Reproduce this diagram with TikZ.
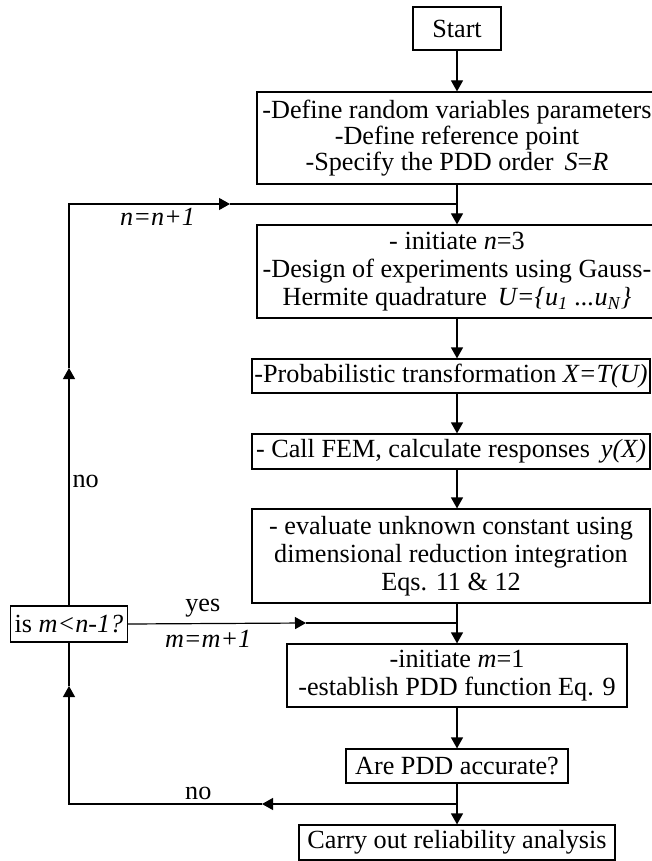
\documentclass[tikz,border=0pt]{standalone}
\usepackage{fontspec}
\setmainfont{Liberation Serif}
\usetikzlibrary{arrows.meta}
\usetikzlibrary{positioning}

\begin{document}
\begin{tikzpicture}[x=0.5pt,y=-0.5pt,node distance=2cm,auto,>={Triangle[length=5.5pt,width=6pt]},
    font=\fontsize{13.1}{14}\selectfont,line width=0.6pt,
    box/.style={draw, rectangle, align=center, inner sep=1pt}]
    \useasboundingbox (0,0) rectangle (652,861);

            % Nodes
            \node [box, minimum width=44pt, minimum height=21.5pt] (Start) at (457,28.5) {Start};
            \node [below of=Start, node distance=54.75pt, box, minimum width=200pt, minimum height=46pt, font=\fontsize{13.1}{13}\selectfont] (Define) {-Define random variables parameters\\-Define reference point\\-Specify the PDD order\, \textit{S}=\textit{R}};
            \node [below of=Define, node distance=66.75pt, box, minimum width=200pt, minimum height=46.5pt] (InitN) {- initiate \textit{n}=3\\-Design of experiments using Gauss-\\Hermite quadrature\, \textit{U=\{u\textsubscript{1} ...u\textsubscript{N}\}}};
            \node [below of=InitN, node distance=52.25pt, xshift=-3pt, box, minimum width=199pt, minimum height=17pt] (Transform) {-Probabilistic transformation \textit{X=T(U)}};
            \node [below of=Transform, node distance=37.75pt, box, minimum width=199pt, minimum height=17.5pt] (CallFEM) {- Call FEM, calculate responses\, \textit{y(X)}};
            \node [below of=CallFEM, node distance=52.25pt, box, minimum width=199pt, minimum height=47pt] (Evaluate) {- evaluate unknown constant using\\dimensional reduction integration\\Eqs. 11 \& 12};
            \node [below of=Evaluate, node distance=59.75pt, xshift=3pt, box, minimum width=170pt, minimum height=31.5pt] (InitM) {-initiate \textit{m}=1\\-establish PDD function Eq. 9};
            \node [below of=InitM, node distance=45.25pt, box, minimum width=111pt, minimum height=17pt] (Accurate) {Are PDD accurate?};
            \node [below of=Accurate, node distance=38.25pt, box, minimum width=158pt, minimum height=17.5pt] (Reliab) {Carry out reliability analysis};

            % Check on m
            \node [box, minimum width=58.5pt, minimum height=18pt] (Check) at (69,624) {is \textit{m<n-1?}};

            % Corners and arrow points of the loops
            \coordinate (loopL) at (69,204);
            \coordinate (loopR) at (457,204);
            \coordinate (loopTip) at (230,204);
            \coordinate (upTip) at (69,368);
            \coordinate (yesR) at (457,623);
            \coordinate (yesTip) at (306,623);
            \coordinate (noR) at (457,804);
            \coordinate (noTip) at (262,804);
            \coordinate (noL) at (69,804);
            \coordinate (backTip) at (69,686);

            % Connections
            \draw [->] (Start) -- (Define);
            \draw [->] (Define) -- (InitN);
            \draw [->] (InitN) -- (InitN |- Transform.north);
            \draw [->] (InitN |- Transform.south) -- (InitN |- CallFEM.north);
            \draw [->] (InitN |- CallFEM.south) -- (InitN |- Evaluate.north);
            \draw [->] (InitN |- Evaluate.south) -- (InitM);
            \draw [->] (InitM) -- (Accurate);
            \draw [->] (Accurate) -- (Reliab);

            % Loop on n
            \draw [->] (Check.north) -- (upTip) node[pos=0.52, right, inner sep=1.5pt] {no};
            \draw [->] (upTip) -- (loopL) -- (loopTip) node[pos=0.55, below, inner sep=2pt] {\textit{n=n+1}};
            \draw (loopTip) -- (loopR);

            % Loop on m
            \draw [->] (Check.east) -- (yesTip) node[pos=0.42, above, inner sep=3pt] {yes} node[pos=0.45, below, inner sep=3pt] {\textit{m=m+1}};
            \draw (yesTip) -- (yesR);
            \draw [->] (noR) -- (noTip);
            \draw [->] (noTip) -- (noL) node[pos=0.33, above, inner sep=2pt] {no} -- (backTip);
            \draw (backTip) -- (Check.south);

        \end{tikzpicture}
\end{document}
